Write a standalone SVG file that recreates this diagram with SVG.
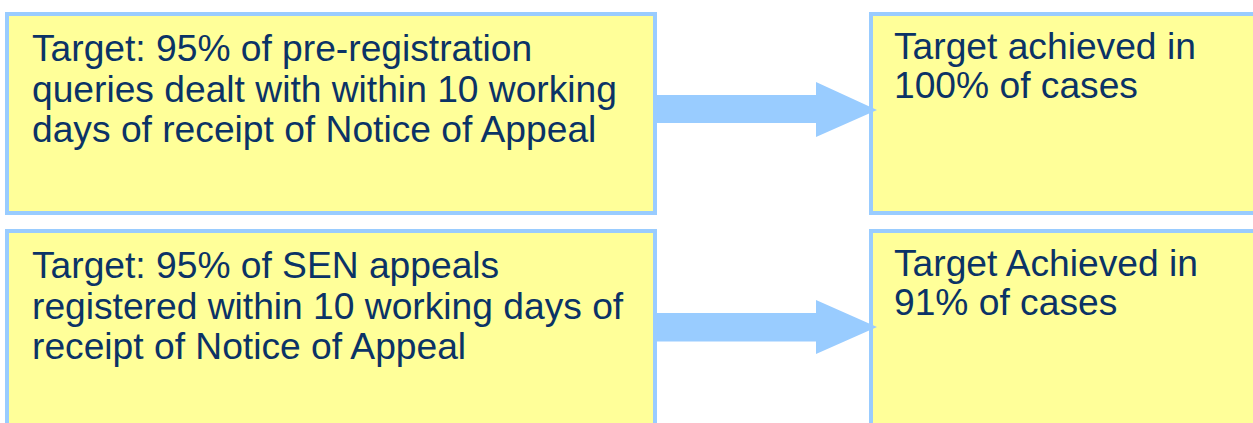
<svg xmlns="http://www.w3.org/2000/svg" width="1253" height="423" viewBox="0 0 1253 423">
  <style>
    .box { fill: #FFFF99; stroke: #99CCFF; stroke-width: 4; }
    .txt { font-family: "Liberation Sans", Arial, sans-serif; font-size: 37.2px; fill: #0B3366; }
    .arrow { fill: #99CCFF; }
  </style>
  <rect x="0" y="0" width="1253" height="423" fill="#FFFFFF"/>
  <g id="node-target-queries">
    <rect class="box" x="7" y="14" width="648" height="199"/>
    <text class="txt" x="32" y="61">Target: 95% of pre-registration</text>
    <text class="txt" x="32" y="101.5">queries dealt with within 10 working</text>
    <text class="txt" x="32" y="141.5">days of receipt of Notice of Appeal</text>
  </g>
  <g id="node-result-queries">
    <rect class="box" x="871" y="14" width="400" height="199"/>
    <text class="txt" x="894" y="59">Target achieved in</text>
    <text class="txt" x="894" y="97.5">100% of cases</text>
  </g>
  <g id="node-target-appeals">
    <rect class="box" x="7" y="231" width="648" height="250"/>
    <text class="txt" x="32" y="278">Target: 95% of SEN appeals</text>
    <text class="txt" x="32" y="318.5">registered within 10 working days of</text>
    <text class="txt" x="32" y="358.5">receipt of Notice of Appeal</text>
  </g>
  <g id="node-result-appeals">
    <rect class="box" x="871" y="231" width="400" height="250"/>
    <text class="txt" x="894" y="276">Target Achieved in</text>
    <text class="txt" x="894" y="314.5">91% of cases</text>
  </g>
  <g id="connectors">
    <polygon class="arrow" points="655,95 816,95 816,82 877,110 816,137 816,123 655,123"/>
    <polygon class="arrow" points="655,313 816,313 816,300 877,327 816,354 816,341.5 655,341.5"/>
  </g>
</svg>
